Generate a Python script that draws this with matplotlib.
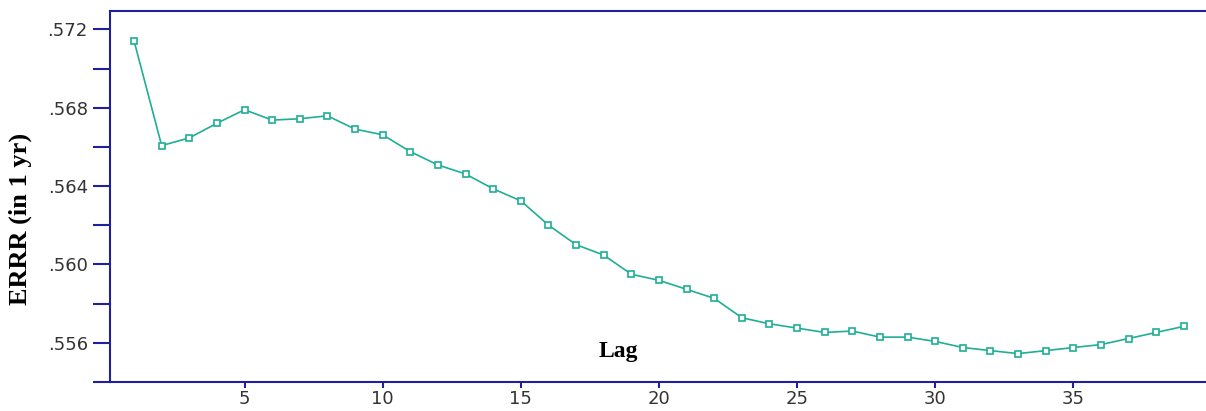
import matplotlib
matplotlib.use("Agg")
import matplotlib.pyplot as plt
from matplotlib.ticker import MultipleLocator, FixedLocator

lags = list(range(1, 40))
errr = [0.57142, 0.56607, 0.56646, 0.56721, 0.56790, 0.56737, 0.56744,
        0.56759, 0.56691, 0.56662, 0.56576, 0.56508, 0.56462, 0.56386,
        0.56325, 0.56201, 0.56101, 0.56048, 0.55950, 0.55919, 0.55873,
        0.55827, 0.55728, 0.55697, 0.55675, 0.55653, 0.55660, 0.55629,
        0.55629, 0.55607, 0.55576, 0.55560, 0.55545, 0.55560, 0.55576,
        0.55591, 0.55622, 0.55653, 0.55684]
ytick_vals = [0.556, 0.560, 0.564, 0.568, 0.572]
ytick_labels = [".556", ".560", ".564", ".568", ".572"]

axis_col = "#1f1fa0"
line_col = "#1fae96"

fig = plt.figure(figsize=(12.06, 4.11), dpi=100)
ax = fig.add_axes([0.0912, 0.0706, 0.9088, 0.9026])

ax.plot(lags, errr, color=line_col, lw=1.2, marker="s", ms=5,
        mfc="white", mec=line_col, mew=1.2)

ax.set_xlim(0.13, 39.8)
ax.set_ylim(0.554, 0.57294)

ax.spines["right"].set_visible(False)
for s in ["left", "bottom", "top"]:
    ax.spines[s].set_color(axis_col)
    ax.spines[s].set_linewidth(1.5)

ax.xaxis.set_major_locator(MultipleLocator(5))
ax.yaxis.set_major_locator(FixedLocator(ytick_vals))
ax.set_yticklabels(ytick_labels)
ax.yaxis.set_minor_locator(MultipleLocator(0.002))
ax.tick_params(axis="y", which="both", length=12, width=1.5, color=axis_col,
               labelsize=13, labelcolor="#333333", pad=4)
ax.tick_params(axis="x", which="major", length=4, width=1.5, color=axis_col,
               labelsize=13, labelcolor="#333333", pad=2)
ax.tick_params(top=False, right=False)

ax.set_ylabel("ERRR (in 1 yr)", family="Liberation Serif", fontweight="bold",
              fontsize=19)
ax.yaxis.set_label_coords(-0.071, 0.44)
ax.text(0.4635, 0.081, "Lag", transform=ax.transAxes, ha="center", va="center",
        family="Liberation Serif", fontweight="bold", fontsize=17)

fig.savefig("out.png", dpi=100)
